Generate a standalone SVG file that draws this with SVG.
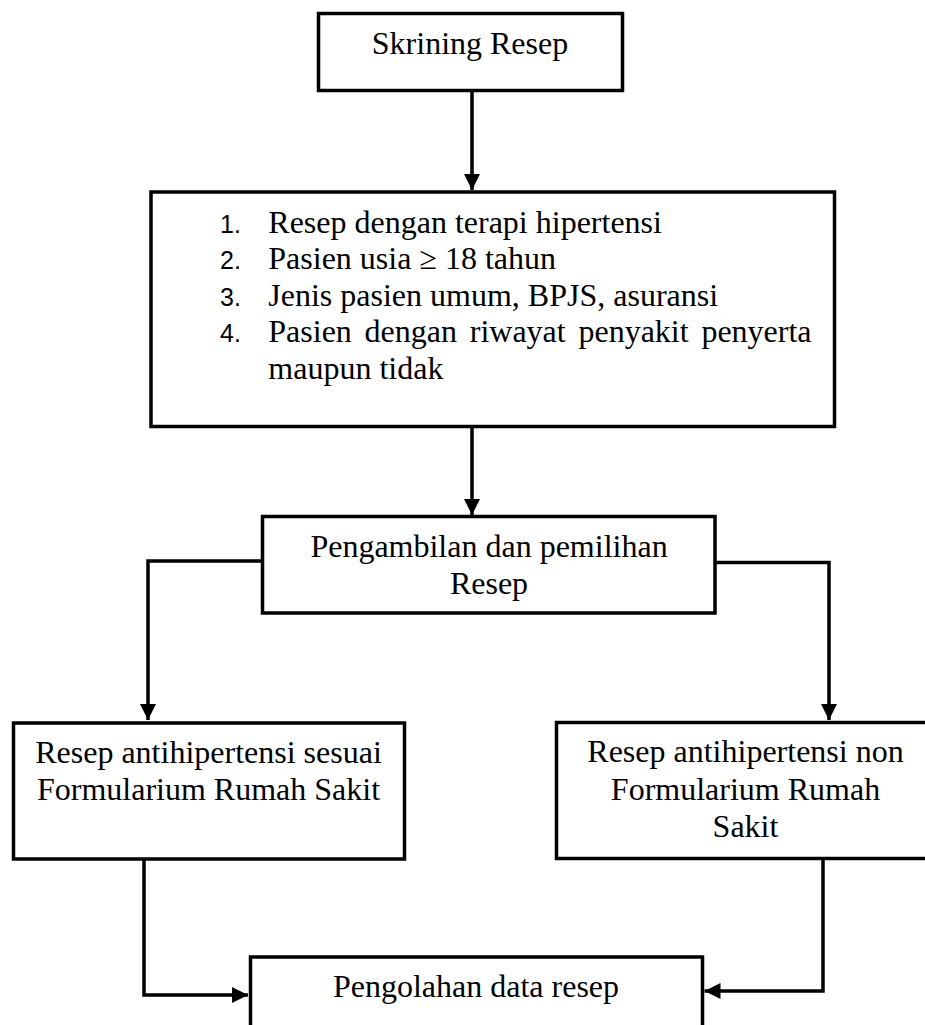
<svg xmlns="http://www.w3.org/2000/svg" width="925" height="1025" viewBox="0 0 925 1025">
<style>
.box{fill:#fff;stroke:#000;stroke-width:3.5}
.con{fill:none;stroke:#000;stroke-width:3.5}
.t{font-family:"Liberation Serif","Times New Roman",serif;font-size:32px;fill:#000}
.c{text-anchor:middle}
.n{font-family:"Liberation Sans",Arial,sans-serif;font-size:25px;fill:#000}
</style>
<defs>
<marker id="ah" markerUnits="userSpaceOnUse" markerWidth="17" markerHeight="17" refX="16" refY="8" orient="auto">
<path d="M0,0 L16,8 L0,16 z" fill="#000"/>
</marker>
</defs>
<rect width="925" height="1025" fill="#fff"/>
<g id="connectors">
<path class="con" d="M472,90.5 V190" marker-end="url(#ah)"/>
<path class="con" d="M472,426 V515" marker-end="url(#ah)"/>
<path class="con" d="M262.5,561 H148 V720" marker-end="url(#ah)"/>
<path class="con" d="M715,562.5 H829 V720" marker-end="url(#ah)"/>
<path class="con" d="M144,859 V995 H248" marker-end="url(#ah)"/>
<path class="con" d="M823,858.5 V991 H704.5" marker-end="url(#ah)"/>
</g>
<g id="skrining">
<rect class="box" x="318.5" y="13.5" width="304" height="77"/>
<text class="t c" x="470" y="54">Skrining Resep</text>
</g>
<g id="kriteria">
<rect class="box" x="151" y="192" width="683.5" height="234.5"/>
<text class="n" x="220" y="232.5">1.</text>
<text class="t" x="268.3" y="232.5">Resep dengan terapi hipertensi</text>
<text class="n" x="220" y="269.1">2.</text>
<text class="t" x="268.3" y="269.1">Pasien usia ≥ 18 tahun</text>
<text class="n" x="220" y="305.7">3.</text>
<text class="t" x="268.3" y="305.7">Jenis pasien umum, BPJS, asuransi</text>
<text class="n" x="220" y="342.3">4.</text>
<text class="t" x="268.3" y="342.3" word-spacing="4.75">Pasien dengan riwayat penyakit penyerta</text>
<text class="t" x="268.3" y="378.9">maupun tidak</text>
</g>
<g id="pengambilan">
<rect class="box" x="262.5" y="516.5" width="452.5" height="96.5"/>
<text class="t c" x="489" y="557.3">Pengambilan dan pemilihan</text>
<text class="t c" x="489" y="594.3">Resep</text>
</g>
<g id="sesuai">
<rect class="box" x="13.5" y="723" width="391" height="136"/>
<text class="t c" x="208.5" y="762.5">Resep antihipertensi sesuai</text>
<text class="t c" x="208.5" y="800">Formularium Rumah Sakit</text>
</g>
<g id="non">
<rect class="box" x="556.5" y="722.5" width="378" height="136"/>
<text class="t c" x="745.5" y="762">Resep antihipertensi non</text>
<text class="t c" x="745.5" y="799.5">Formularium Rumah</text>
<text class="t c" x="745.5" y="837">Sakit</text>
</g>
<g id="pengolahan">
<rect class="box" x="250.5" y="957" width="452" height="100"/>
<text class="t c" x="476" y="996.7">Pengolahan data resep</text>
</g>
</svg>
